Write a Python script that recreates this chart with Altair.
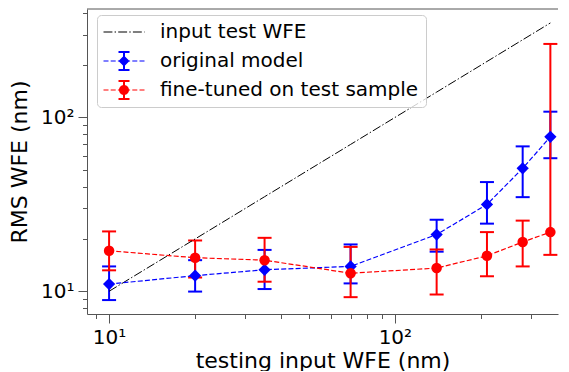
import altair as alt
import pandas as pd

# ---------------- data ----------------
x_vals = [10, 20, 35, 70, 140, 210, 280, 350]
input_wfe = [10, 20, 35, 70, 140, 210, 280, 350]

orig_mean = [11.0, 12.3, 13.3, 13.9, 21.2, 31.6, 51.0, 77.4]
orig_lo = [8.9, 9.96, 10.3, 11.1, 16.9, 24.5, 34.8, 58.3]
orig_hi = [13.9, 15.1, 17.3, 18.6, 25.8, 42.5, 68.2, 108.0]

ft_mean = [17.1, 15.6, 15.1, 12.7, 13.6, 16.0, 19.2, 21.9]
ft_lo = [13.2, 12.0, 11.35, 9.25, 9.58, 12.2, 13.9, 16.2]
ft_hi = [22.1, 19.6, 20.3, 18.0, 17.4, 21.9, 25.5, 265.0]

series_names = ["input test WFE", "original model", "fine-tuned on test sample"]
series_colors = ["black", "blue", "red"]

x_ticks = [9, 10, 20, 30, 40, 50, 60, 70, 80, 90, 100, 200, 300]
y_ticks = [8, 9, 10, 20, 30, 40, 50, 60, 70, 80, 90, 100, 200, 300, 400]
# the reference's right edge is cut by the frame; the visible part ends near 372
x_domain = [8.37, 372.2]
y_domain = [7.4, 421]

# ---------------- legend glyphs (custom symbol paths) ----------------
def rect(x0, y0, x1, y1):
    return f"M{x0:.3f},{y0:.3f}H{x1:.3f}V{y1:.3f}H{x0:.3f}Z"

def dashed(pattern, x0=-2.05, x1=2.05, h=0.055):
    parts = []
    x = x0
    i = 0
    while x < x1:
        seg = pattern[i % len(pattern)]
        if i % 2 == 0:
            parts.append(rect(x, -h, min(x + seg, x1), h))
        x += seg
        i += 1
    return "".join(parts)

def errbar(cap=0.55):
    return (rect(-0.1, -1, 0.1, 1) + rect(-cap, -1, cap, -0.8) + rect(-cap, 0.8, cap, 1))

diamond = "M-0.55,0L0,-0.55L0.55,0L0,0.55Z"
circle = "M0.5,0A0.5,0.5,0,1,1,-0.5,0A0.5,0.5,0,1,1,0.5,0Z"

path_input = dashed([0.89, 0.22, 0.14, 0.22])
path_orig = dashed([0.5, 0.22], h=0.06) + errbar() + diamond
path_ft = dashed([0.5, 0.22], h=0.06) + errbar() + circle

# ---------------- tables ----------------
df_o = pd.DataFrame({"x": x_vals, "m": orig_mean, "lo": orig_lo, "hi": orig_hi})
df_f = pd.DataFrame({"x": x_vals, "m": ft_mean, "lo": ft_lo, "hi": ft_hi})
df_in = pd.DataFrame({"x": x_vals, "m": input_wfe})
df_leg = pd.concat([
    df_in.assign(series=series_names[0]),
    df_o[["x", "m"]].assign(series=series_names[1]),
    df_f[["x", "m"]].assign(series=series_names[2]),
])

major = "datum.value == 10 || datum.value == 100"
label_expr = "datum.value == 10 ? '10\u00b9' : (datum.value == 100 ? '10\u00b2' : '')"
tick_size = {"condition": {"test": major, "value": 9}, "value": 4.5}

x_axis = alt.Axis(values=x_ticks, labelExpr=label_expr, tickSize=tick_size,
                  title="testing input WFE (nm)", labelPadding=4, titlePadding=3)
y_axis = alt.Axis(values=y_ticks, labelExpr=label_expr, tickSize=tick_size,
                  title="RMS WFE (nm)", labelPadding=4, titlePadding=9)

xs = alt.Scale(type="log", domain=x_domain, nice=False)
ys = alt.Scale(type="log", domain=y_domain, nice=False)

X = alt.X("x:Q", scale=xs, axis=x_axis)
def Y(field):
    return alt.Y(f"{field}:Q", scale=ys, axis=y_axis)


def bars(df, color):
    rule = alt.Chart(df).mark_rule(color=color, strokeWidth=2).encode(
        x=X, y=Y("lo"), y2="hi:Q")
    cap_lo = alt.Chart(df).mark_tick(color=color, orient="horizontal", size=14,
                                     thickness=2, opacity=1).encode(x=X, y=Y("lo"))
    cap_hi = alt.Chart(df).mark_tick(color=color, orient="horizontal", size=14,
                                     thickness=2, opacity=1).encode(x=X, y=Y("hi"))
    return [rule, cap_lo, cap_hi]


def line(df, color, dash, width):
    return alt.Chart(df).mark_line(color=color, strokeWidth=width, strokeDash=dash).encode(
        x=X, y=Y("m"))


pts_o = alt.Chart(df_o).mark_point(shape="diamond", filled=True, size=150, color="blue",
                                   opacity=1).encode(x=X, y=Y("m"))
pts_f = alt.Chart(df_f).mark_point(shape="circle", filled=True, size=110, color="red",
                                   opacity=1).encode(x=X, y=Y("m"))

# top spine: a rule at the top of the y domain (right spine is cropped in the reference)
top_spine = alt.Chart().mark_rule(color="#555555", strokeWidth=1).encode(
    y=alt.datum(y_domain[1], scale=ys, axis=y_axis))

legend = alt.Legend(title=None, orient="none", legendX=10, legendY=6, padding=7,
                    fillColor="rgba(255,255,255,0.8)", strokeColor="#cccccc",
                    cornerRadius=4, labelFont="DejaVu Sans", labelFontSize=20,
                    labelColor="black", labelOffset=26, symbolOffset=10,
                    rowPadding=9, symbolSize=400, symbolStrokeWidth=0,
                    symbolOpacity=1, labelLimit=0)

legend_layer = alt.Chart(df_leg).mark_point(filled=True, opacity=0).encode(
    x=X, y=Y("m"),
    color=alt.Color("series:N", scale=alt.Scale(domain=series_names, range=series_colors),
                    legend=legend),
    shape=alt.Shape("series:N", scale=alt.Scale(domain=series_names,
                                                range=[path_input, path_orig, path_ft]),
                    legend=legend),
)

layers = (bars(df_o, "blue") + bars(df_f, "red") + [
    line(df_in, "black", [8.9, 2.2, 1.4, 2.2], 1),
    line(df_o, "blue", [5, 2.2], 1.2),
    pts_o,
    line(df_f, "red", [5, 2.2], 1.2),
    pts_f,
    top_spine,
    legend_layer,
])

chart = alt.layer(*layers).properties(
    width=471, height=305,
    padding={"left": 0, "top": 0, "right": 0, "bottom": 0},
).configure(font="DejaVu Sans").configure_view(
    stroke=None
).configure_axis(
    grid=False, domainColor="#555555", tickColor="#555555", tickWidth=1,
    labelColor="black", titleColor="black", labelFont="DejaVu Sans",
    titleFont="DejaVu Sans", labelFontSize=20, titleFontSize=22,
    titleFontWeight="normal",
)

chart.save("out.html", embed_options={"renderer": "svg", "actions": False})
